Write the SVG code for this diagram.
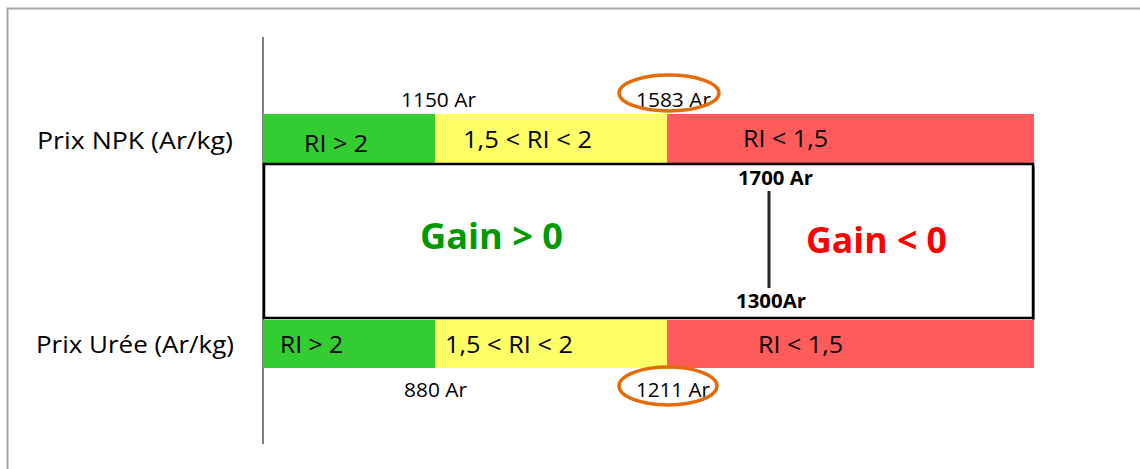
<svg xmlns="http://www.w3.org/2000/svg" width="1140" height="469" viewBox="0 0 1140 469">
<style>
.t{font-family:"Open Sans","Liberation Sans",sans-serif;fill:#000}
.lbl{font-size:24px}
.ri{font-size:24px}
.ar{font-size:20px}
.b{font-family:"Open Sans","Liberation Sans",sans-serif;font-weight:bold}
.ell{fill:none;stroke:#E36C09;stroke-width:3.5}
</style>
<rect x="0" y="0" width="1140" height="469" fill="#fff"/>
<g id="frame">
<path d="M7.5 469 V8.5 H1140" fill="none" stroke="#a6a6a6" stroke-width="2"/>
</g>
<g id="axis">
<line x1="263" y1="37" x2="263" y2="444" stroke="#808080" stroke-width="2"/>
</g>
<g id="npk-bar">
<rect x="263" y="114" width="172" height="49" fill="#33CC33"/>
<rect x="435" y="114" width="232" height="49" fill="#FFFF66"/>
<rect x="667" y="114" width="367" height="49" fill="#FF5B5B"/>
<text class="t ri" x="304" y="152" textLength="64" lengthAdjust="spacingAndGlyphs">RI &gt; 2</text>
<text class="t ri" x="463" y="148" textLength="129" lengthAdjust="spacingAndGlyphs">1,5 &lt; RI &lt; 2</text>
<text class="t ri" x="743" y="147" textLength="85" lengthAdjust="spacingAndGlyphs">RI &lt; 1,5</text>
</g>
<g id="uree-bar">
<rect x="263" y="320" width="172" height="48" fill="#33CC33"/>
<rect x="435" y="320" width="232" height="48" fill="#FFFF66"/>
<rect x="667" y="320" width="367" height="48" fill="#FF5B5B"/>
<text class="t ri" x="280" y="353" textLength="63" lengthAdjust="spacingAndGlyphs">RI &gt; 2</text>
<text class="t ri" x="445" y="353" textLength="128" lengthAdjust="spacingAndGlyphs">1,5 &lt; RI &lt; 2</text>
<text class="t ri" x="758" y="353" textLength="85" lengthAdjust="spacingAndGlyphs">RI &lt; 1,5</text>
</g>
<g id="gain-box">
<rect x="1032" y="166" width="3" height="154" fill="#7f7f7f"/>
<rect x="264" y="164" width="769" height="154" fill="#fff" stroke="#000" stroke-width="2.5"/>
<text class="b" x="420" y="249" font-size="36" fill="#009900" textLength="143" lengthAdjust="spacingAndGlyphs">Gain &gt; 0</text>
<text class="b" x="806" y="253" font-size="36" fill="#FF0000" textLength="141" lengthAdjust="spacingAndGlyphs">Gain &lt; 0</text>
<text class="b" x="738" y="185" font-size="19" textLength="75" lengthAdjust="spacingAndGlyphs">1700 Ar</text>
<line x1="769" y1="191" x2="769" y2="288" stroke="#262626" stroke-width="3"/>
<text class="b" x="736" y="308" font-size="19" textLength="70" lengthAdjust="spacingAndGlyphs">1300Ar</text>
</g>
<g id="labels">
<text class="t lbl" x="37" y="149" textLength="196" lengthAdjust="spacingAndGlyphs">Prix NPK (Ar/kg)</text>
<text class="t lbl" x="36" y="353" textLength="198" lengthAdjust="spacingAndGlyphs">Prix Urée (Ar/kg)</text>
<text class="t ar" x="401" y="107" textLength="75" lengthAdjust="spacingAndGlyphs">1150 Ar</text>
<text class="t ar" x="636" y="107" textLength="75" lengthAdjust="spacingAndGlyphs">1583 Ar</text>
<text class="t ar" x="404" y="397" textLength="63" lengthAdjust="spacingAndGlyphs">880 Ar</text>
<text class="t ar" x="636" y="397" textLength="74" lengthAdjust="spacingAndGlyphs">1211 Ar</text>
</g>
<g id="highlights">
<ellipse class="ell" cx="669" cy="93" rx="50" ry="18"/>
<ellipse class="ell" cx="668" cy="386" rx="49" ry="19"/>
</g>
</svg>
